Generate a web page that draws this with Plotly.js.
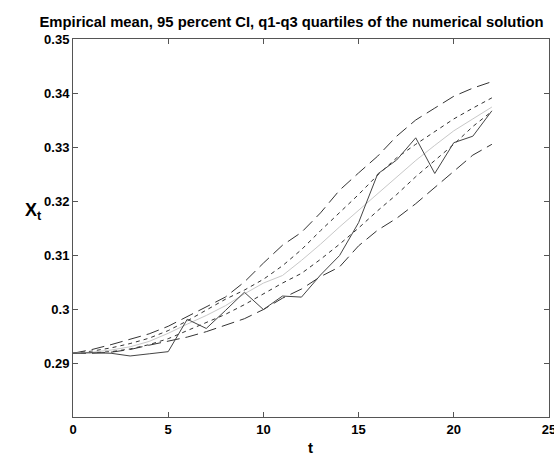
<!DOCTYPE html>
<html>
<head>
<meta charset="utf-8">
<script src="https://cdn.plot.ly/plotly-3.0.1.min.js"></script>
<style>html,body{margin:0;padding:0;background:#fff;}#chart{width:554px;height:455px;}</style>
</head>
<body>
<div id="chart"></div>
<script>
var t = [0,1,2,3,4,5,6,7,8,9,10,11,12,13,14,15,16,17,18,19,20,21,22];
var numericalSolution = [0.2918,0.2919,0.2918,0.2913,0.2917,0.2921,0.2981,0.2964,0.2997,0.3031,0.2999,0.3024,0.3022,0.3063,0.3099,0.3160,0.3250,0.3276,0.3317,0.3251,0.3308,0.3320,0.3367];
var empiricalMean = [0.2918,0.2920,0.2924,0.2930,0.2940,0.2955,0.2972,0.2988,0.3006,0.3028,0.3048,0.3062,0.3090,0.3120,0.3152,0.3183,0.3214,0.3245,0.3275,0.3303,0.3330,0.3352,0.3374];
var ciUpper = [0.2918,0.2925,0.2934,0.2944,0.2954,0.2968,0.2986,0.3003,0.3022,0.3050,0.3085,0.3118,0.3142,0.3178,0.3220,0.3252,0.3283,0.3320,0.3350,0.3372,0.3394,0.3409,0.3421];
var ciLower = [0.2918,0.2918,0.2920,0.2925,0.2933,0.2941,0.2948,0.2958,0.2970,0.2982,0.2999,0.3020,0.3037,0.3060,0.3078,0.3117,0.3146,0.3168,0.3195,0.3225,0.3256,0.3285,0.3305];
var q3 = [0.2918,0.2922,0.2928,0.2936,0.2946,0.2960,0.2978,0.2998,0.3018,0.3035,0.3055,0.3080,0.3110,0.3145,0.3178,0.3212,0.3248,0.3280,0.3305,0.3328,0.3352,0.3372,0.3391];
var q1 = [0.2918,0.2919,0.2921,0.2926,0.2934,0.2945,0.2960,0.2975,0.2990,0.3008,0.3028,0.3048,0.3066,0.3092,0.3120,0.3150,0.3182,0.3212,0.3245,0.3275,0.3305,0.3338,0.3366];
var xTicks = [0,5,10,15,20,25];
var yTicks = [0.29,0.30,0.31,0.32,0.33,0.34,0.35];
var yTickText = ["0.29","0.3","0.31","0.32","0.33","0.34","0.35"];

function tr(y, color, dash) {
  return {x: t, y: y, type: 'scatter', mode: 'lines', line: {color: color, width: 1, dash: dash}, hoverinfo: 'none'};
}
var data = [
  tr(ciUpper, '#333333', '13px,6px'),
  tr(ciLower, '#333333', '13px,6px'),
  tr(q3, '#333333', '4px,4px'),
  tr(q1, '#333333', '4px,4px'),
  tr(empiricalMean, '#c8c8c8', 'solid'),
  tr(numericalSolution, '#444444', 'solid')
];
var FAM = 'Liberation Sans, Arial, sans-serif';
var font = {family: FAM, size: 13, color: '#000'};
var layout = {
  width: 554, height: 455,
  margin: {l: 73, r: 5, t: 39, b: 38},
  paper_bgcolor: '#fff', plot_bgcolor: '#fff',
  showlegend: false,
  font: font,
  title: {text: '<b>Empirical mean, 95 percent CI, q1-q3 quartiles of the numerical solution</b>', font: {family: FAM, size: 14.8, color: '#000'}, xref: 'container', x: 291.5/554, xanchor: 'center', yref: 'container', y: 1 - 22/455, yanchor: 'middle'},
  xaxis: {range: [0, 25.0001], tickvals: xTicks, ticktext: xTicks.map(function(v){return '<b>'+v+'</b>';}), ticks: 'inside', ticklen: 5, tickcolor: '#555', showline: true, linecolor: '#555', linewidth: 1, mirror: 'ticks', showgrid: false, zeroline: false, tickfont: font, ticklabeloverflow: 'allow'},
  yaxis: {range: [0.28, 0.35], tickvals: yTicks, ticktext: yTickText.map(function(v){return '<b>'+v+'</b>';}), ticks: 'inside', ticklen: 5, tickcolor: '#555', showline: true, linecolor: '#555', linewidth: 1, mirror: 'ticks', showgrid: false, zeroline: false, tickfont: font},
  annotations: [
    {text: '<b>X<sub>t</sub></b>', xref: 'paper', yref: 'paper', x: (33-73)/476, y: (417-211)/378, xanchor: 'center', yanchor: 'middle', showarrow: false, font: {family: FAM, size: 18, color: '#000'}},
    {text: '<b>t</b>', xref: 'paper', yref: 'paper', x: (310-73)/476, y: (417-447)/378, xanchor: 'center', yanchor: 'middle', showarrow: false, font: {family: FAM, size: 15, color: '#000'}}
  ]
};
Plotly.newPlot('chart', data, layout, {staticPlot: true, displayModeBar: false});
</script>
</body>
</html>
